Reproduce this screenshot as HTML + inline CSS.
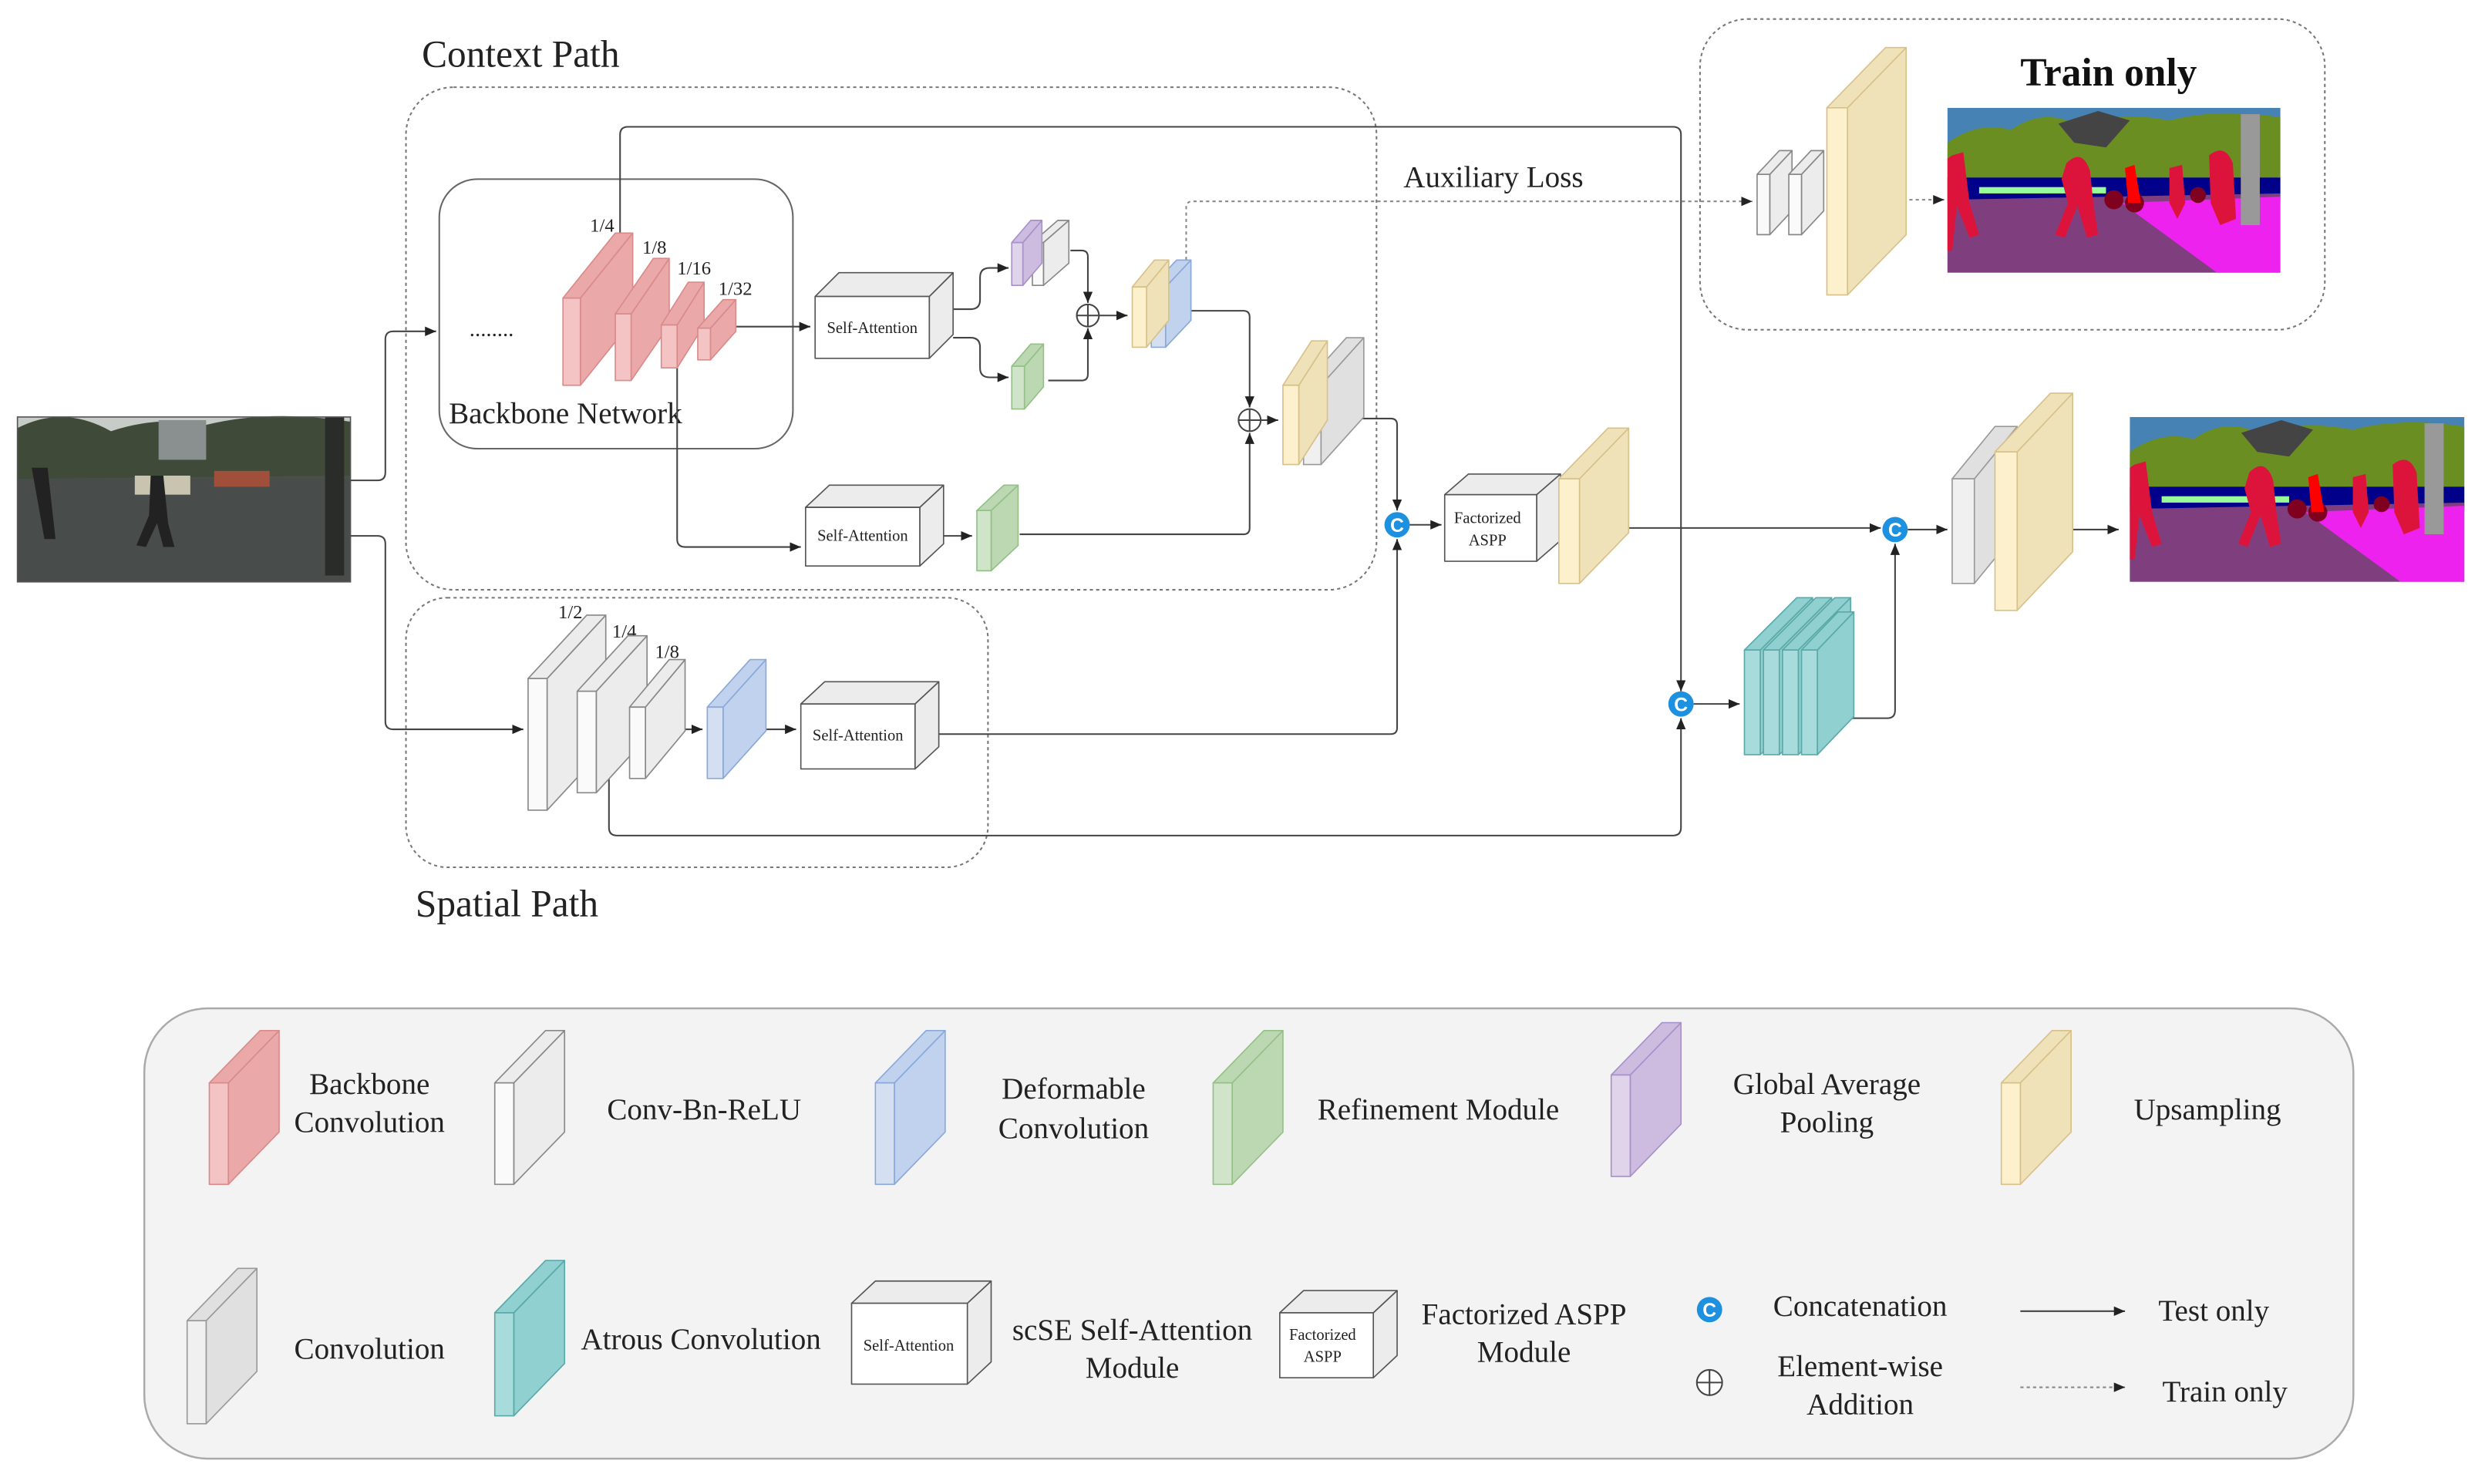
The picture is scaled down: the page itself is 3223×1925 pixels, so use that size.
<!DOCTYPE html>
<html><head><meta charset="utf-8">
<style>
html,body{margin:0;padding:0;background:#fff;}
svg{display:block;}
text{font-family:"Liberation Serif",serif;fill:#222;}
</style></head>
<body>
<svg id="s" width="3223" height="1925" viewBox="0 0 1567 936" preserveAspectRatio="none" xmlns="http://www.w3.org/2000/svg">
<defs>
<marker id="ar" markerWidth="8" markerHeight="8" refX="7" refY="4" orient="auto" markerUnits="userSpaceOnUse">
<path d="M0,1 L7,4 L0,7 z" fill="#222"/></marker>
<symbol id="seg" viewBox="0 0 210 104" preserveAspectRatio="none">
<rect width="210" height="104" fill="#4682b4"/>
<path d="M0,22 Q20,8 40,14 Q60,0 80,10 Q110,2 140,8 Q170,0 210,6 L210,60 L0,60z" fill="#6b8e23"/>
<path d="M70,10 L95,2 L115,8 L100,25 L80,22z" fill="#444"/>
<rect x="0" y="44" width="210" height="14" fill="#00008b"/>
<rect x="20" y="50" width="80" height="4" fill="#98fb98"/>
<path d="M0,58 L210,54 L210,104 L0,104z" fill="#7f3f7f"/>
<path d="M110,60 L210,56 L210,104 L170,104z" fill="#ee22ee"/>
<rect x="185" y="4" width="12" height="70" fill="#999"/>
<path d="M3,30 L10,28 L14,60 L20,80 L14,82 L6,62 L3,90 L0,90 L0,32z" fill="#dc143c"/>
<path d="M75,35 Q85,25 90,40 L92,60 L95,80 L88,82 L82,62 L74,82 L68,80 L76,60 L72,45z" fill="#dc143c"/>
<path d="M140,38 L148,36 L150,60 L145,70 L140,60z" fill="#dc143c"/>
<path d="M165,30 Q175,22 180,35 L182,70 L172,74 L166,60z" fill="#dc143c"/>
<circle cx="105" cy="58" r="6" fill="#800020"/><circle cx="118" cy="60" r="6" fill="#800020"/>
<circle cx="158" cy="55" r="5" fill="#800020"/>
<path d="M112,38 L118,36 L122,60 L114,60z" fill="#f00"/>
</symbol>
</defs>

<rect x="11" y="263" width="210" height="104" fill="#4a5048"/>
<rect x="11" y="263" width="210" height="20" fill="#c8ccc8"/>
<path d="M11,270 Q40,255 70,272 Q100,262 130,268 Q170,258 221,266 L221,300 L11,302z" fill="#3f4a38"/>
<rect x="100" y="265" width="30" height="25" fill="#8a9090"/>
<rect x="11" y="302" width="210" height="65" fill="#484c4a"/>
<rect x="135" y="297" width="35" height="10" fill="#a0503a"/>
<rect x="85" y="300" width="35" height="12" fill="#c8c4b0"/>
<path d="M95,300 L103,300 L106,330 L110,345 L103,345 L99,330 L92,345 L86,344 L94,325z" fill="#222"/>
<path d="M20,295 L30,295 L35,340 L28,340z" fill="#222"/>
<rect x="205" y="263" width="12" height="100" fill="#2a2c2a"/>
<rect x="11" y="263" width="210" height="104" fill="none" stroke="#555" stroke-width="0.8"/>

<use href="#seg" x="1228" y="68" width="210" height="104"/>
<use href="#seg" x="1343" y="263" width="211" height="104"/>

<rect x="256" y="55" width="612" height="317" rx="30" fill="none" stroke="#777" stroke-dasharray="2,2" stroke-width="1"/>
<rect x="277" y="113" width="223" height="170" rx="24" fill="none" stroke="#666" stroke-width="1"/>
<rect x="256" y="377" width="367" height="170" rx="26" fill="none" stroke="#777" stroke-dasharray="2,2" stroke-width="1"/>
<rect x="1072" y="12" width="394" height="196" rx="30" fill="none" stroke="#777" stroke-dasharray="2,2" stroke-width="1"/>
<rect x="91" y="636" width="1393" height="284" rx="40" fill="#f3f3f3" stroke="#aaa" stroke-width="1.2"/>

<text x="266" y="42" font-size="24">Context Path</text>
<text x="262" y="578" font-size="24">Spatial Path</text>
<text x="885" y="118" font-size="19">Auxiliary Loss</text>
<text x="1274" y="54" font-size="25" font-weight="bold" style="fill:#111">Train only</text>
<text x="296" y="212" font-size="14">........</text>
<text x="283" y="267" font-size="19">Backbone Network</text>
<g font-size="12">
<text x="372" y="146">1/4</text><text x="405" y="160">1/8</text><text x="427" y="173">1/16</text><text x="453" y="186">1/32</text>
<text x="352" y="390">1/2</text><text x="386" y="402">1/4</text><text x="413" y="415">1/8</text>
</g>

<g fill="none" stroke="#444" stroke-width="1">
<path d="M221,303 H238 Q243,303 243,298 V214 Q243,209 248,209 H275" marker-end="url(#ar)"/>
<path d="M221,338 H238 Q243,338 243,343 V455 Q243,460 248,460 H330" marker-end="url(#ar)"/>
<path d="M456,206 H511" marker-end="url(#ar)"/>
<path d="M391,148 V85 Q391,80 396,80 H1055 Q1060,80 1060,85 V436" marker-end="url(#ar)"/>
<path d="M427,225 V340 Q427,345 432,345 H505" marker-end="url(#ar)"/>
<path d="M601,195 H612 Q618,195 618,189 V175 Q618,169 624,169 H636" marker-end="url(#ar)"/>
<path d="M601,213 H612 Q618,213 618,219 V232 Q618,238 624,238 H636" marker-end="url(#ar)"/>
<path d="M675,158 H682 Q686,158 686,162 V191" marker-end="url(#ar)"/>
<path d="M661,240 H682 Q686,240 686,236 V207" marker-end="url(#ar)"/>
<path d="M693,199 H711" marker-end="url(#ar)"/>
<path d="M751,196 H784 Q788,196 788,200 V257" marker-end="url(#ar)"/>
<path d="M594,338 H613" marker-end="url(#ar)"/>
<path d="M643,337 H784 Q788,337 788,333 V273" marker-end="url(#ar)"/>
<path d="M795,265 H806" marker-end="url(#ar)"/>
<path d="M853,264 H877 Q881,264 881,268 V322" marker-end="url(#ar)"/>
<path d="M592,463 H877 Q881,463 881,459 V340" marker-end="url(#ar)"/>
<path d="M889,331 H909" marker-end="url(#ar)"/>
<path d="M1010,333 H1186" marker-end="url(#ar)"/>
<path d="M384,490 V522 Q384,527 389,527 H1055 Q1060,527 1060,522 V453" marker-end="url(#ar)"/>
<path d="M1068,444 H1097" marker-end="url(#ar)"/>
<path d="M1160,453 H1190 Q1195,453 1195,448 V343" marker-end="url(#ar)"/>
<path d="M1203,334 H1228" marker-end="url(#ar)"/>
<path d="M1290,334 H1336" marker-end="url(#ar)"/>
<path d="M420,460 H443" marker-end="url(#ar)"/>
<path d="M476,460 H502" marker-end="url(#ar)"/>
<path d="M748,164 V131 Q748,127 752,127 H1105" stroke-dasharray="2,2" stroke="#888" marker-end="url(#ar)"/>
<path d="M1192,126 H1226" stroke-dasharray="2,2" stroke="#888" marker-end="url(#ar)"/>
<path d="M1274,827 H1340" marker-end="url(#ar)"/>
<path d="M1274,875 H1340" stroke-dasharray="2,2" stroke="#888" marker-end="url(#ar)"/>
</g>

<g id="shapes"></g>

<g fill="#fff" stroke="#444" stroke-width="1">
<circle cx="686" cy="199" r="7"/><path d="M679,199 H693 M686,192 V206"/>
<circle cx="788" cy="265" r="7"/><path d="M781,265 H795 M788,258 V272"/>
<circle cx="1078" cy="872" r="8"/><path d="M1070,872 H1086 M1078,864 V880"/>
</g>
<g>
<circle cx="881" cy="331" r="8" fill="#1e90e0"/><text x="881" y="335.5" font-size="12" text-anchor="middle" style="fill:#fff;font-family:'Liberation Sans',sans-serif;font-weight:bold">C</text>
<circle cx="1195" cy="334" r="8" fill="#1e90e0"/><text x="1195" y="338.5" font-size="12" text-anchor="middle" style="fill:#fff;font-family:'Liberation Sans',sans-serif;font-weight:bold">C</text>
<circle cx="1060" cy="444" r="8" fill="#1e90e0"/><text x="1060" y="448.5" font-size="12" text-anchor="middle" style="fill:#fff;font-family:'Liberation Sans',sans-serif;font-weight:bold">C</text>
<circle cx="1078" cy="826" r="8" fill="#1e90e0"/><text x="1078" y="830.5" font-size="12" text-anchor="middle" style="fill:#fff;font-family:'Liberation Sans',sans-serif;font-weight:bold">C</text>
</g>

<g font-size="10" text-anchor="middle">
<text x="550" y="210">Self-Attention</text>
<text x="544" y="341">Self-Attention</text>
<text x="541" y="467">Self-Attention</text>
<text x="573" y="852" font-size="10">Self-Attention</text>
<text x="938" y="330">Factorized</text><text x="938" y="344">ASPP</text>
<text x="834" y="845">Factorized</text><text x="834" y="859">ASPP</text>
</g>

<g font-size="19" text-anchor="middle">
<text x="233" y="690">Backbone</text><text x="233" y="714">Convolution</text>
<text x="444" y="706">Conv-Bn-ReLU</text>
<text x="677" y="693">Deformable</text><text x="677" y="718">Convolution</text>
<text x="907" y="706">Refinement Module</text>
<text x="1152" y="690">Global Average</text><text x="1152" y="714">Pooling</text>
<text x="1392" y="706">Upsampling</text>
<text x="233" y="857">Convolution</text>
<text x="442" y="851">Atrous Convolution</text>
<text x="714" y="845">scSE Self-Attention</text><text x="714" y="869">Module</text>
<text x="961" y="835">Factorized  ASPP</text><text x="961" y="859">Module</text>
<text x="1173" y="830">Concatenation</text>
<text x="1173" y="868">Element-wise</text><text x="1173" y="892">Addition</text>
<text x="1396" y="833">Test only</text>
<text x="1403" y="884">Train only</text>
</g>

<script>
var C={red:["#f4c4c4","#eaa8a8","#d98a8a"],white:["#fafafa","#ececec","#888"],gray:["#f0f0f0","#e0e0e0","#999"],
blue:["#d4e0f2","#c0d2ee","#8aa8d8"],green:["#cfe4c8","#bcd8b2","#94c088"],purple:["#e0d4ea","#cdbce0","#a890c8"],
yellow:["#fdf0cc","#f0e2b8","#d8c08a"],teal:["#a8dcdc","#90d0d0","#5aa8a8"],box:["#fff","#ececec","#555"]};
var sh=document.getElementById('shapes');
function P(pts,f,s){var p=document.createElementNS('http://www.w3.org/2000/svg','polygon');p.setAttribute('points',pts.map(function(a){return a.join(',')}).join(' '));p.setAttribute('fill',f);p.setAttribute('stroke',s);p.setAttribute('stroke-width','0.8');p.setAttribute('stroke-linejoin','round');sh.appendChild(p);}
function slab(x,y,w,h,dx,dy,c){c=C[c];
P([[x+w,y],[x+w+dx,y+dy],[x+w+dx,y+h+dy],[x+w,y+h]],c[1],c[2]);
P([[x,y],[x+dx,y+dy],[x+w+dx,y+dy],[x+w,y]],c[1],c[2]);
P([[x,y],[x+w,y],[x+w,y+h],[x,y+h]],c[0],c[2]);}
slab(355,188,11,55,33,-41,'red');
slab(388,198,10,42,24,-35,'red');
slab(417,205,10,27,17,-27,'red');
slab(440,207,8,20,16,-18,'red');
slab(514,187,72,39,15,-15,'box');
slab(651,153,7,27,16,-14,'white');
slab(638,153,7,27,12,-14,'purple');
slab(638,231,8,27,12,-14,'green');
slab(726,181,9,38,16,-17,'blue');
slab(714,181,9,38,14,-17,'yellow');
slab(508,320,72,37,15,-14,'box');
slab(616,322,9,38,17,-16,'green');
slab(822,243,11,50,27,-30,'gray');
slab(809,243,10,50,18,-28,'yellow');
slab(911,312,58,42,15,-13,'box');
slab(983,302,13,66,31,-32,'yellow');
slab(1231,302,14,66,27,-33,'gray');
slab(1258,285,14,100,35,-37,'yellow');
slab(1100,410,10,66,33,-33,'teal');
slab(1112,410,10,66,33,-33,'teal');
slab(1124,410,10,66,33,-33,'teal');
slab(1136,410,10,66,23,-24,'teal');
slab(1108,110,8,38,14,-15,'white');
slab(1128,110,8,38,14,-15,'white');
slab(1152,68,13,118,37,-38,'yellow');
slab(333,428,12,83,37,-40,'white');
slab(364,436,12,64,32,-35,'white');
slab(397,446,10,45,25,-30,'white');
slab(446,446,10,45,27,-30,'blue');
slab(505,444,72,41,15,-14,'box');
slab(132,683,12,64,32,-33,'red');
slab(312,683,12,64,32,-33,'white');
slab(552,683,12,64,32,-33,'blue');
slab(765,683,12,64,32,-33,'green');
slab(1016,678,12,64,32,-33,'purple');
slab(1262,683,12,64,32,-33,'yellow');
slab(118,833,12,65,32,-33,'gray');
slab(312,828,12,65,32,-33,'teal');
slab(537,822,73,51,15,-14,'box');
slab(807,828,59,41,15,-14,'box');
</script>
</svg>
</body></html>
